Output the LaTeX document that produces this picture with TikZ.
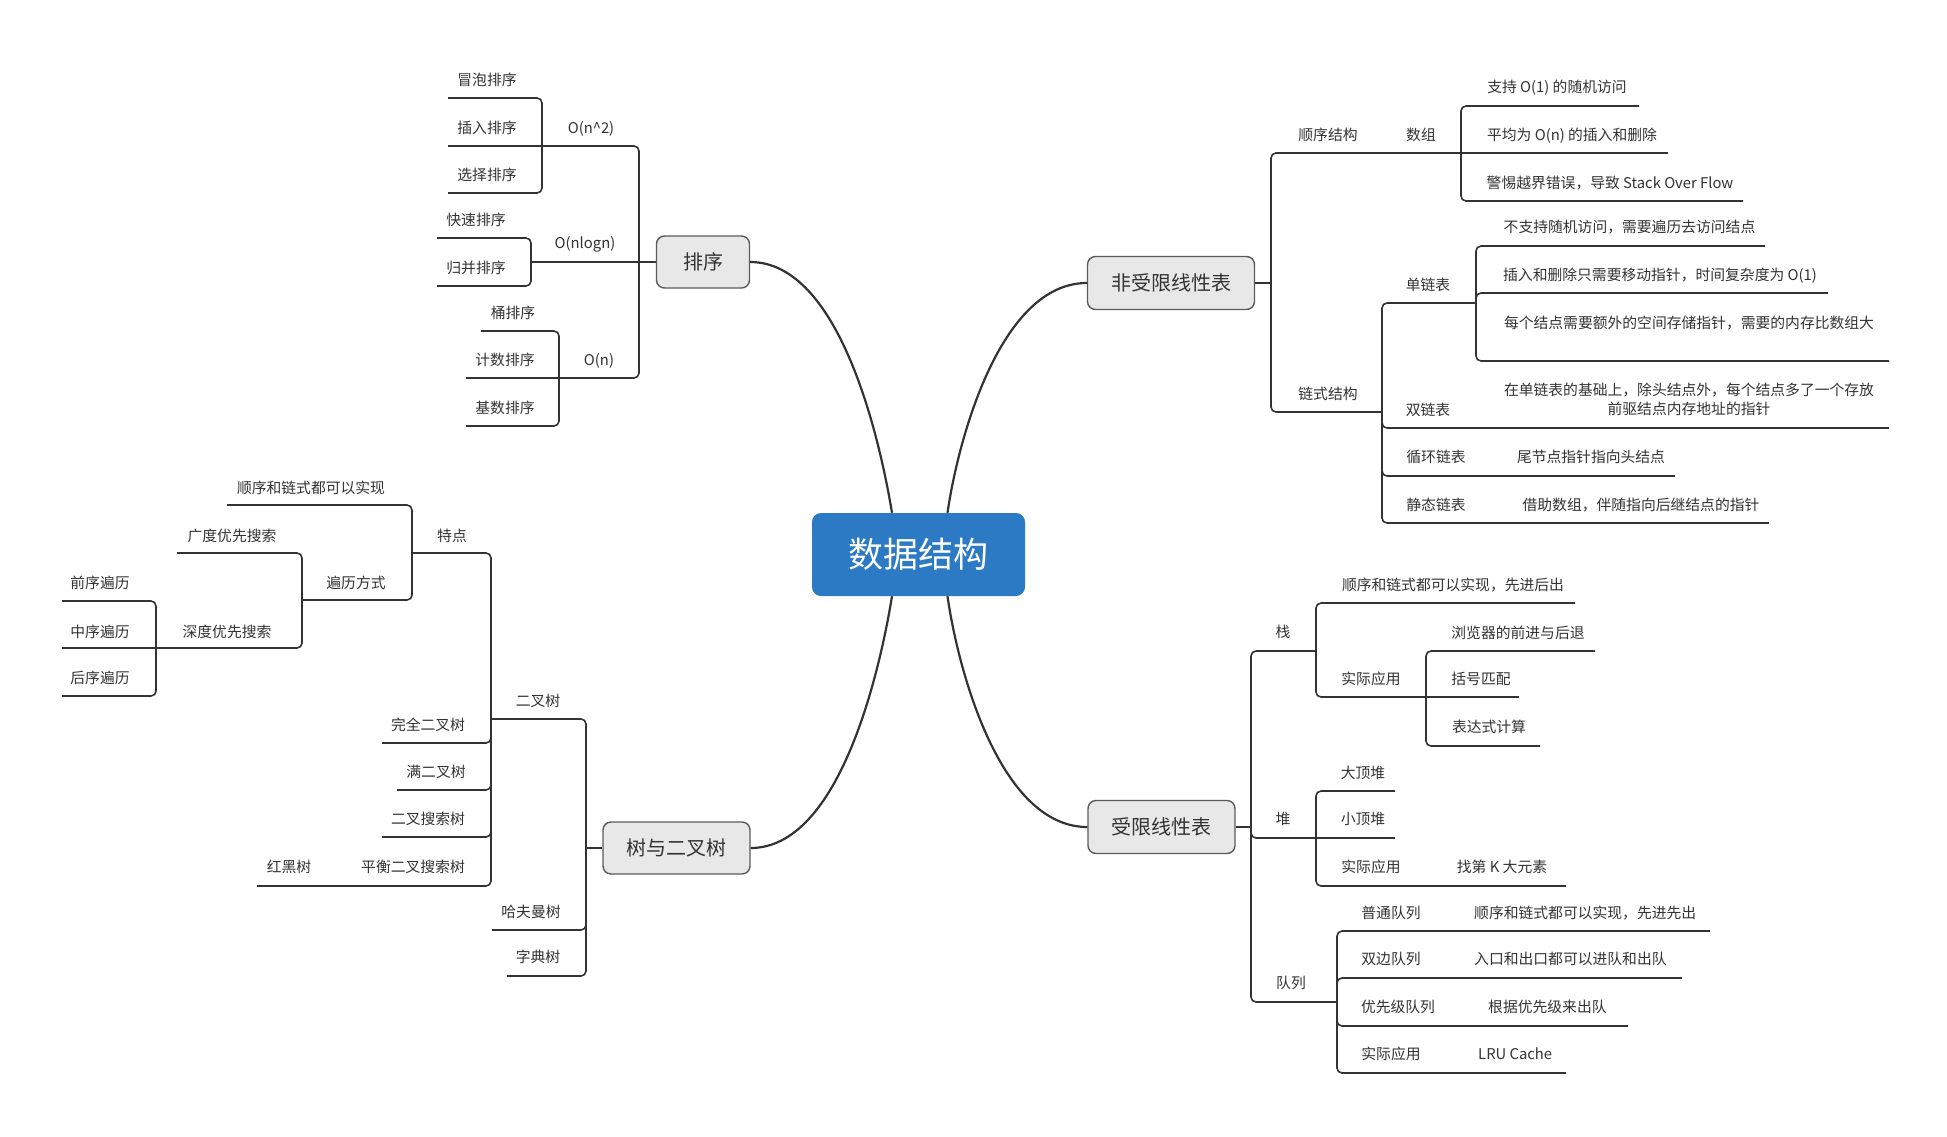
\documentclass[tikz,border=0pt]{standalone}
\usepackage{fontspec}
\newfontfamily\cjk{Noto Sans CJK SC}
\definecolor{lncol}{HTML}{333333}
\definecolor{txtcol}{HTML}{333333}
\definecolor{boxfill}{HTML}{E8E8E8}
\definecolor{boxborder}{HTML}{5B5B5B}
\definecolor{rootcol}{HTML}{2C7AC3}
\tikzset{
  con/.style={draw=lncol, line width=1.6pt, rounded corners=5pt},
  curve/.style={draw=lncol, line width=2.2pt},
  lf/.style={font=\cjk\fontsize{14.8}{18}\selectfont, text=txtcol, inner sep=0pt, text height=12.7pt, text depth=1.5pt},
  topic/.style={draw=boxborder, fill=boxfill, line width=1.4pt, rounded corners=8pt, font=\cjk\fontsize{20}{24}\selectfont, text=txtcol, inner sep=0pt, text height=17.5pt, text depth=2.5pt},
  rootbox/.style={fill=rootcol, rounded corners=9pt, font=\cjk\fontsize{35}{40}\selectfont, text=white, inner sep=0pt, text height=30.5pt, text depth=4.5pt}
}
\begin{document}
\begin{tikzpicture}[x=1pt,y=-1pt]
\useasboundingbox (0,0) rectangle (1947,1136);
\fill[white] (0,0) rectangle (1947,1136);

% main topics
\node[rootbox, minimum width=213pt, minimum height=83pt] (root) at (918.5,554.5) {数据结构};
\node[topic, minimum width=93pt, minimum height=52pt] (sort) at (703,262) {排序};
\node[topic, minimum width=167pt, minimum height=53pt] (ulin) at (1171,283) {非受限线性表};
\node[topic, minimum width=147pt, minimum height=53pt] (rlin) at (1161.5,827) {受限线性表};
\node[topic, minimum width=147pt, minimum height=52pt] (tree) at (676.5,848) {树与二叉树};

% curves
\draw[curve] (sort.east) .. controls (840,262) and (880,440) .. ([xshift=-26.5pt]root.north);
\draw[curve] (ulin.west) .. controls (1000,283) and (958,440) .. ([xshift=29pt]root.north);
\draw[curve] (tree.east) .. controls (840,848) and (880,670) .. ([xshift=-26.5pt]root.south);
\draw[curve] (rlin.west) .. controls (1000,827) and (958,670) .. ([xshift=29pt]root.south);

% ---------- 排序 ----------
\coordinate (s0) at (639,262);
\draw[con] (sort.west) -- (s0);
\draw[con] (s0) |- (542,146);
\draw[con] (s0) -- (531,262);
\draw[con] (s0) |- (559,378);
\draw[con] (542,146) |- (448,98);
\draw[con] (542,146) -- (448,146);
\draw[con] (542,146) |- (448,193);
\draw[con] (531,262) |- (437,238);
\draw[con] (531,262) |- (437,286);
\draw[con] (559,378) |- (481,331);
\draw[con] (559,378) -- (466,378);
\draw[con] (559,378) |- (466,426);
\node[lf] (on2) at (591,128) {O(n\char`\^2)};
\node[lf] (onl) at (585,243) {O(nlogn)};
\node[lf] (on) at (599,360) {O(n)};
\node[lf] (s1) at (487,80) {冒泡排序};
\node[lf] (s2) at (487,128) {插入排序};
\node[lf] (s3) at (487,175) {选择排序};
\node[lf] (s4) at (476,220) {快速排序};
\node[lf] (s5) at (476,268) {归并排序};
\node[lf] (s6) at (513,313) {桶排序};
\node[lf] (s7) at (505,360) {计数排序};
\node[lf] (s8) at (505,408) {基数排序};

% ---------- 非受限线性表 ----------
\coordinate (u0) at (1271,283);
\draw[con] (ulin.east) -- (u0);
\draw[con] (u0) |- (1365,153);
\draw[con] (u0) |- (1382,412);
\draw[con] (1365,153) -- (1461,153);
\draw[con] (1461,153) |- (1639,106);
\draw[con] (1461,153) -- (1668,153);
\draw[con] (1461,153) |- (1743,201);
\draw[con] (1382,412) |- (1476,303);
\draw[con] (1382,412) |- (1490,428);
\draw[con] (1382,412) |- (1510,476);
\draw[con] (1382,412) |- (1510,523);
\draw[con] (1476,303) |- (1765,246);
\draw[con] (1476,303) |- (1828,293);
\draw[con] (1476,303) |- (1889,361);
\draw[con] (1490,428) -- (1889,428);
\draw[con] (1510,476) -- (1675,476);
\draw[con] (1510,523) -- (1769,523);
\node[lf] (u1) at (1328,135) {顺序结构};
\node[lf] (u2) at (1421,135) {数组};
\node[lf] (u3) at (1557,87) {支持 O(1) 的随机访问};
\node[lf] (u4) at (1572,135) {平均为 O(n) 的插入和删除};
\node[lf] (u5) at (1610,183) {警惕越界错误，导致 Stack Over Flow};
\node[lf] (u6) at (1328,394) {链式结构};
\node[lf] (u7) at (1428,285) {单链表};
\node[lf] (u8) at (1629.5,227) {不支持随机访问，需要遍历去访问结点};
\node[lf] (u9) at (1660,275) {插入和删除只需要移动指针，时间复杂度为 O(1)};
\node[lf] (u10) at (1689,323) {每个结点需要额外的空间存储指针，需要的内存比数组大};
\node[lf] (u11) at (1428,410) {双链表};
\node[lf] (u12) at (1689,390) {在单链表的基础上，除头结点外，每个结点多了一个存放};
\node[lf] (u13) at (1689,409) {前驱结点内存地址的指针};
\node[lf] (u14) at (1436,457) {循环链表};
\node[lf] (u15) at (1591,457) {尾节点指针指向头结点};
\node[lf] (u16) at (1436,505) {静态链表};
\node[lf] (u17) at (1641,505) {借助数组，伴随指向后继结点的指针};

% ---------- 受限线性表 ----------
\coordinate (r0) at (1251,827);
\draw[con] (rlin.east) -- (r0);
\draw[con] (r0) |- (1316,651);
\draw[con] (r0) |- (1316,838);
\draw[con] (r0) |- (1337,1002);
\draw[con] (1316,651) |- (1575,603);
\draw[con] (1316,651) |- (1426,697);
\draw[con] (1426,697) |- (1595,651);
\draw[con] (1426,697) -- (1519,697);
\draw[con] (1426,697) |- (1540,746);
\draw[con] (1316,838) |- (1395,791);
\draw[con] (1316,838) -- (1395,838);
\draw[con] (1316,838) |- (1440,886);
\draw[con] (1440,886) -- (1566,886);
\draw[con] (1337,1002) |- (1450,931);
\draw[con] (1337,1002) |- (1450,978);
\draw[con] (1337,1002) |- (1460,1026);
\draw[con] (1337,1002) |- (1450,1073);
\draw[con] (1450,931) -- (1710,931);
\draw[con] (1450,978) -- (1682,978);
\draw[con] (1460,1026) -- (1628,1026);
\draw[con] (1450,1073) -- (1566,1073);
\node[lf] (r1) at (1283,632) {栈};
\node[lf] (r2) at (1453,585) {顺序和链式都可以实现，先进后出};
\node[lf] (r3) at (1371,679) {实际应用};
\node[lf] (r4) at (1518,633) {浏览器的前进与后退};
\node[lf] (r5) at (1481,679) {括号匹配};
\node[lf] (r6) at (1489,727) {表达式计算};
\node[lf] (r7) at (1283,819) {堆};
\node[lf] (r8) at (1363,773) {大顶堆};
\node[lf] (r9) at (1363,819) {小顶堆};
\node[lf] (r10) at (1371,867) {实际应用};
\node[lf] (r11) at (1502,867) {找第 K 大元素};
\node[lf] (r12) at (1291,983) {队列};
\node[lf] (r13) at (1391,913) {普通队列};
\node[lf, anchor=west] (r14) at (1474,913) {顺序和链式都可以实现，先进先出};
\node[lf] (r15) at (1391,959) {双边队列};
\node[lf, anchor=west] (r16) at (1474,959) {入口和出口都可以进队和出队};
\node[lf] (r17) at (1398,1007) {优先级队列};
\node[lf, anchor=west] (r18) at (1488,1007) {根据优先级来出队};
\node[lf] (r19) at (1391,1054) {实际应用};
\node[lf, anchor=west] (r20) at (1478,1054) {LRU Cache};

% ---------- 树与二叉树 ----------
\coordinate (t0) at (586,848);
\draw[con] (tree.west) -- (t0);
\draw[con] (t0) |- (491,719);
\draw[con] (t0) |- (492,930);
\draw[con] (t0) |- (507,976);
\draw[con] (491,719) |- (412,553);
\draw[con] (491,719) |- (382,743);
\draw[con] (491,719) |- (397,790);
\draw[con] (491,719) |- (382,837);
\draw[con] (491,719) |- (340,886);
\draw[con] (340,886) -- (257,886);
\draw[con] (412,553) |- (227,505);
\draw[con] (412,553) |- (302,600);
\draw[con] (302,600) |- (177,553);
\draw[con] (302,600) |- (156,648);
\draw[con] (156,648) |- (62,601);
\draw[con] (156,648) -- (62,648);
\draw[con] (156,648) |- (62,696);
\node[lf] (b1) at (538,701) {二叉树};
\node[lf] (b2) at (452,536) {特点};
\node[lf] (b3) at (311,488) {顺序和链式都可以实现};
\node[lf] (b4) at (356,583) {遍历方式};
\node[lf] (b5) at (232,536) {广度优先搜索};
\node[lf] (b6) at (227,632) {深度优先搜索};
\node[lf] (b7) at (100,583) {前序遍历};
\node[lf] (b8) at (100,632) {中序遍历};
\node[lf] (b9) at (100,678) {后序遍历};
\node[lf] (b10) at (428,725) {完全二叉树};
\node[lf] (b11) at (436,772) {满二叉树};
\node[lf] (b12) at (428,819) {二叉搜索树};
\node[lf] (b13) at (413,867) {平衡二叉搜索树};
\node[lf] (b14) at (289,867) {红黑树};
\node[lf] (b15) at (531,912) {哈夫曼树};
\node[lf] (b16) at (538,957) {字典树};
\end{tikzpicture}
\end{document}
